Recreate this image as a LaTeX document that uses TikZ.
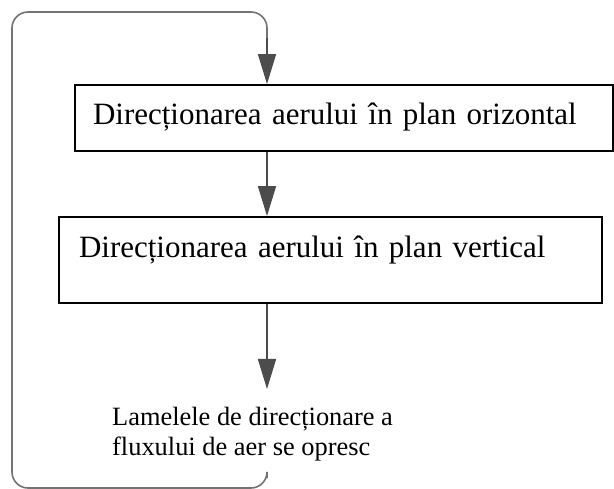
\documentclass[tikz,border=0pt]{standalone}
\usepackage{fontspec}
\setmainfont{Liberation Serif}
\usetikzlibrary{arrows.meta}
\begin{document}
\begin{tikzpicture}[x=1pt,y=-1pt,
  boxnode/.style={draw=black, line width=1.8pt, inner xsep=18pt, inner ysep=0pt, align=left, font=\fontsize{31}{36}\selectfont},
  flow/.style={draw=black!70, line width=1.6pt, -{Triangle[length=30pt,width=18pt]}},
  loopline/.style={draw=black!55, line width=1.6pt, rounded corners=16pt}]
\useasboundingbox (0,0) rectangle (614,489);
\node[boxnode, minimum width=538pt, minimum height=66pt, text width=502pt, text height=20pt, text depth=6pt] (b1) at (344,118) {Direcționarea aerului în plan orizontal};
\node[boxnode, minimum width=543pt, minimum height=86pt, text width=503pt, text height=20pt, text depth=24pt] (b2) at (330.5,260) {Direcționarea aerului în plan vertical};
\node[anchor=base west, align=left, inner sep=0pt, font=\fontsize{26.4}{30}\selectfont] (t) at (112,456) {Lamelele de direcționare a\\fluxului de aer se opresc};
\coordinate (ls) at (267,478);
\coordinate (tip) at (267,389);
\draw[flow] (b1.south -| 267,0) -- (b2.north -| 267,0);
\draw[flow] (b2.south -| 267,0) -- (tip);
\draw[loopline] (ls) -- (267,488) -- (12,488) -- (12,12) -- (267,12) -- (267,40);
\draw[flow] (267,38) -- (b1.north -| 267,0);
\end{tikzpicture}
\end{document}
